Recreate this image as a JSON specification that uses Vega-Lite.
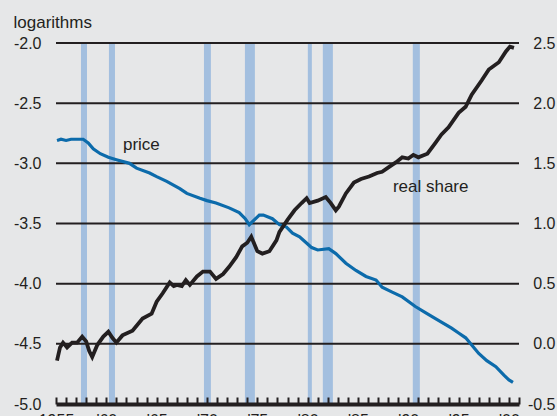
{
  "$schema": "https://vega.github.io/schema/vega-lite/v6.json",
  "width": 463,
  "height": 361,
  "autosize": {"type": "none"},
  "padding": {"left": 56, "top": 43, "right": 38, "bottom": 12},
  "background": "#e6e7e8",
  "config": {
    "view": {"stroke": null},
    "font": "Liberation Sans",
    "axis": {"labelFont": "Liberation Sans", "labelFontSize": 16, "labelColor": "#231f20"}
  },
  "datasets": {
    "recessions": [
      {"start": 1957.48, "end": 1958.08},
      {"start": 1960.26, "end": 1960.86},
      {"start": 1969.70, "end": 1970.39},
      {"start": 1973.77, "end": 1974.76},
      {"start": 1980.02, "end": 1980.42},
      {"start": 1981.51, "end": 1982.51},
      {"start": 1990.45, "end": 1991.15}
    ],
    "grid": [{"v": -2.0}, {"v": -2.5}, {"v": -3.0}, {"v": -3.5}, {"v": -4.0}, {"v": -4.5}],
    "labels": [
      {"year": 1961.65, "value": -2.889, "label": "price"},
      {"year": 1988.47, "value": -3.239, "label": "real share"}
    ],
    "price": [
      {"year": 1955.1, "value": -2.81}, {"year": 1955.5, "value": -2.80}, {"year": 1956.0, "value": -2.81},
      {"year": 1956.5, "value": -2.80}, {"year": 1957.0, "value": -2.80}, {"year": 1957.7, "value": -2.80},
      {"year": 1958.2, "value": -2.83}, {"year": 1958.7, "value": -2.88}, {"year": 1959.4, "value": -2.92},
      {"year": 1960.2, "value": -2.95}, {"year": 1961.0, "value": -2.97}, {"year": 1962.3, "value": -3.00},
      {"year": 1963.0, "value": -3.04}, {"year": 1964.3, "value": -3.08}, {"year": 1965.0, "value": -3.11},
      {"year": 1966.0, "value": -3.15}, {"year": 1967.3, "value": -3.21}, {"year": 1968.0, "value": -3.25},
      {"year": 1969.3, "value": -3.29}, {"year": 1970.0, "value": -3.31}, {"year": 1970.9, "value": -3.33},
      {"year": 1972.2, "value": -3.37}, {"year": 1973.2, "value": -3.41}, {"year": 1973.8, "value": -3.46},
      {"year": 1974.2, "value": -3.51}, {"year": 1974.7, "value": -3.47}, {"year": 1975.2, "value": -3.43},
      {"year": 1975.6, "value": -3.43}, {"year": 1976.5, "value": -3.46}, {"year": 1977.2, "value": -3.51},
      {"year": 1977.9, "value": -3.53}, {"year": 1978.5, "value": -3.58}, {"year": 1979.2, "value": -3.61},
      {"year": 1980.0, "value": -3.67}, {"year": 1980.4, "value": -3.70}, {"year": 1981.0, "value": -3.72},
      {"year": 1982.1, "value": -3.71}, {"year": 1982.8, "value": -3.75}, {"year": 1983.8, "value": -3.83},
      {"year": 1984.8, "value": -3.89}, {"year": 1985.8, "value": -3.94}, {"year": 1986.8, "value": -3.97},
      {"year": 1987.4, "value": -4.03}, {"year": 1988.4, "value": -4.07}, {"year": 1989.4, "value": -4.11},
      {"year": 1990.7, "value": -4.19}, {"year": 1991.7, "value": -4.24}, {"year": 1992.7, "value": -4.29},
      {"year": 1993.5, "value": -4.33}, {"year": 1994.3, "value": -4.37}, {"year": 1995.0, "value": -4.41},
      {"year": 1995.7, "value": -4.45}, {"year": 1996.3, "value": -4.51}, {"year": 1997.0, "value": -4.58},
      {"year": 1997.8, "value": -4.64}, {"year": 1998.7, "value": -4.69}, {"year": 1999.5, "value": -4.76},
      {"year": 2000.0, "value": -4.80}, {"year": 2000.4, "value": -4.82}
    ],
    "share": [
      {"year": 1955.1, "value": -0.14}, {"year": 1955.4, "value": -0.03}, {"year": 1955.7, "value": 0.01},
      {"year": 1956.1, "value": -0.03}, {"year": 1956.6, "value": 0.01}, {"year": 1957.1, "value": 0.01},
      {"year": 1957.6, "value": 0.06}, {"year": 1958.0, "value": 0.02}, {"year": 1958.3, "value": -0.06},
      {"year": 1958.6, "value": -0.11}, {"year": 1959.1, "value": -0.01}, {"year": 1959.7, "value": 0.06},
      {"year": 1960.2, "value": 0.10}, {"year": 1960.6, "value": 0.05}, {"year": 1961.0, "value": 0.01},
      {"year": 1961.6, "value": 0.07}, {"year": 1962.6, "value": 0.11}, {"year": 1963.6, "value": 0.21},
      {"year": 1964.5, "value": 0.25}, {"year": 1965.0, "value": 0.35}, {"year": 1965.6, "value": 0.42},
      {"year": 1966.3, "value": 0.51}, {"year": 1966.7, "value": 0.48}, {"year": 1967.0, "value": 0.49},
      {"year": 1967.5, "value": 0.48}, {"year": 1967.9, "value": 0.53}, {"year": 1968.3, "value": 0.49},
      {"year": 1969.0, "value": 0.56}, {"year": 1969.6, "value": 0.60}, {"year": 1970.3, "value": 0.60},
      {"year": 1970.9, "value": 0.54}, {"year": 1971.6, "value": 0.58}, {"year": 1972.2, "value": 0.64},
      {"year": 1972.9, "value": 0.72}, {"year": 1973.5, "value": 0.81}, {"year": 1974.0, "value": 0.84},
      {"year": 1974.4, "value": 0.89}, {"year": 1975.0, "value": 0.77}, {"year": 1975.5, "value": 0.75},
      {"year": 1976.2, "value": 0.77}, {"year": 1976.9, "value": 0.86}, {"year": 1977.2, "value": 0.93},
      {"year": 1978.0, "value": 1.03}, {"year": 1978.7, "value": 1.11}, {"year": 1979.4, "value": 1.17},
      {"year": 1979.9, "value": 1.21}, {"year": 1980.2, "value": 1.17}, {"year": 1981.0, "value": 1.19},
      {"year": 1981.8, "value": 1.22}, {"year": 1982.3, "value": 1.17}, {"year": 1982.8, "value": 1.11},
      {"year": 1983.1, "value": 1.14}, {"year": 1983.8, "value": 1.25}, {"year": 1984.6, "value": 1.34},
      {"year": 1985.3, "value": 1.37}, {"year": 1986.1, "value": 1.39}, {"year": 1986.9, "value": 1.42},
      {"year": 1987.4, "value": 1.43}, {"year": 1988.1, "value": 1.47}, {"year": 1988.8, "value": 1.51},
      {"year": 1989.4, "value": 1.55}, {"year": 1990.0, "value": 1.54}, {"year": 1990.5, "value": 1.57},
      {"year": 1991.0, "value": 1.55}, {"year": 1991.9, "value": 1.58}, {"year": 1992.7, "value": 1.67},
      {"year": 1993.3, "value": 1.74}, {"year": 1994.0, "value": 1.80}, {"year": 1995.0, "value": 1.92},
      {"year": 1995.7, "value": 1.97}, {"year": 1996.3, "value": 2.07}, {"year": 1997.3, "value": 2.19},
      {"year": 1998.0, "value": 2.28}, {"year": 1999.0, "value": 2.34}, {"year": 1999.7, "value": 2.43},
      {"year": 2000.1, "value": 2.47}, {"year": 2000.5, "value": 2.46}
    ]
  },
  "layer": [
    {
      "encoding": {
        "x": {
          "field": "year", "type": "quantitative",
          "scale": {"domain": [1955, 2001], "nice": false, "zero": false},
          "axis": {
            "orient": "bottom",
            "values": [1955,1960,1965,1970,1975,1980,1985,1990,1995,2000],
            "labelExpr": "datum.value == 1955 ? '1955' : \"'\" + substring(toString(datum.value), 2, 4)",
            "domain": false, "ticks": false, "grid": false, "title": null,
            "labelPadding": 8, "labelBaseline": "top", "labelFlush": false, "labelOverlap": false
          }
        }
      },
      "layer": [
        {
          "data": {"name": "recessions"},
          "mark": {"type": "rect", "color": "#a3bfdf"},
          "encoding": {
            "x": {"field": "start", "type": "quantitative"},
            "x2": {"field": "end"}
          }
        },
        {
          "data": {"name": "grid"},
          "mark": {"type": "rule", "color": "#231f20", "strokeWidth": 2},
          "encoding": {"x": null, "y": {"field": "v", "type": "quantitative"}}
        },
        {
          "data": {"name": "price"},
          "mark": {"type": "line", "color": "#0c6bab", "strokeWidth": 3.2},
          "encoding": {
            "y": {
              "field": "value", "type": "quantitative",
              "scale": {"domain": [-5, -2], "nice": false, "zero": false},
              "axis": {
                "values": [-5, -4.5, -4, -3.5, -3, -2.5, -2],
                "labelExpr": "(datum.value < 0 ? '-' : '') + format(abs(datum.value), '.1f')",
                "domain": false, "ticks": false, "grid": false, "labelPadding": 15,
                "title": "logarithms", "titleAngle": 0, "titleAlign": "left", "titleBaseline": "alphabetic",
                "titleX": -43, "titleY": -16, "titleFontSize": 17, "titleFontWeight": "normal",
                "titleColor": "#231f20", "titleFont": "Liberation Sans"
              }
            }
          }
        },
        {
          "data": {"name": "labels"},
          "mark": {"type": "text", "align": "left", "baseline": "alphabetic", "fontSize": 17, "color": "#231f20", "font": "Liberation Sans"},
          "encoding": {
            "y": {"field": "value", "type": "quantitative"},
            "text": {"field": "label"}
          }
        }
      ]
    },
    {
      "data": {"name": "share"},
      "mark": {"type": "line", "color": "#231f20", "strokeWidth": 3.8},
      "encoding": {
        "x": {
          "field": "year", "type": "quantitative",
          "axis": {
            "orient": "top", "offset": -361,
            "values": [1955,1956,1957,1958,1959,1960,1961,1962,1963,1964,1965,1966,1967,1968,1969,1970,1971,1972,1973,1974,1975,1976,1977,1978,1979,1980,1981,1982,1983,1984,1985,1986,1987,1988,1989,1990,1991,1992,1993,1994,1995,1996,1997,1998,1999,2000,2001],
            "labels": false, "ticks": true, "tickSize": 7, "tickWidth": 2, "tickColor": "#231f20",
            "domain": true, "domainWidth": 4, "domainColor": "#231f20",
            "grid": false, "title": null, "zindex": 1
          }
        },
        "y": {
          "field": "value", "type": "quantitative",
          "scale": {"domain": [-0.5, 2.5], "nice": false, "zero": false},
          "axis": {
            "orient": "right",
            "values": [-0.5, 0, 0.5, 1, 1.5, 2, 2.5],
            "labelExpr": "(datum.value < 0 ? '-' : '') + format(abs(datum.value), '.1f')",
            "domain": false, "ticks": false, "grid": false, "labelPadding": 36, "labelAlign": "right", "title": null
          }
        }
      }
    }
  ],
  "resolve": {"scale": {"y": "independent"}, "axis": {"x": "independent"}}
}
